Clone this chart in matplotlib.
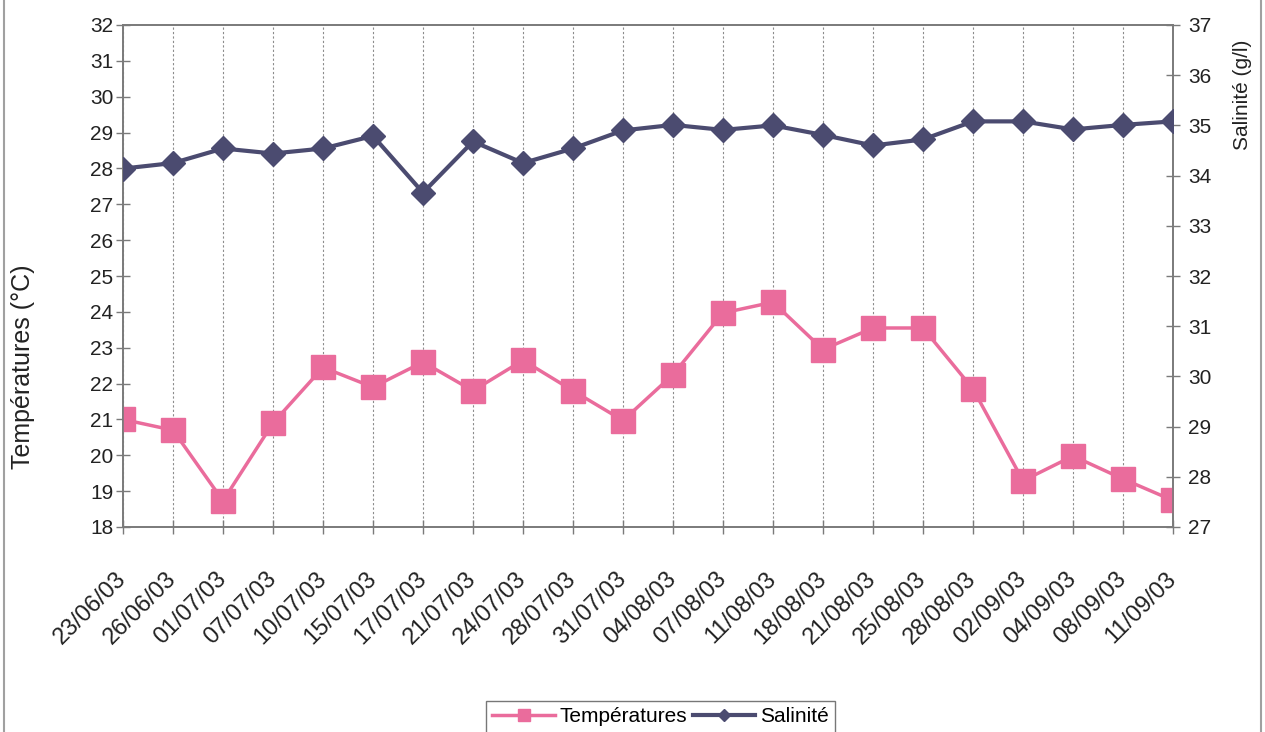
import numpy as np
import matplotlib
matplotlib.use('Agg')
import matplotlib.pyplot as plt
from matplotlib.patches import Rectangle

plt.rcParams['font.family'] = ['Liberation Sans', 'DejaVu Sans']

# data
dates = ['23/06/03', '26/06/03', '01/07/03', '07/07/03', '10/07/03', '15/07/03',
         '17/07/03', '21/07/03', '24/07/03', '28/07/03', '31/07/03', '04/08/03',
         '07/08/03', '11/08/03', '18/08/03', '21/08/03', '25/08/03', '28/08/03',
         '02/09/03', '04/09/03', '08/09/03', '11/09/03']

temperatures = [21.0, 20.7, 18.73, 20.9, 22.45, 21.9, 22.6, 21.8, 22.65, 21.8, 20.97,
                22.25, 23.97, 24.27, 22.95, 23.55, 23.55, 21.85, 19.29, 19.98,
                19.34, 18.74]

salinite = [34.14, 34.25, 34.54, 34.44, 34.54, 34.79, 33.66, 34.68, 34.25, 34.54, 34.9,
            35.01, 34.91, 35.0, 34.81, 34.6, 34.72, 35.08, 35.08, 34.92, 35.01, 35.08]

temp_ticks = np.arange(18, 33, 1)
sal_ticks = np.arange(27, 38, 1)

col_temp = '#EA6C9C'
col_sal = '#4B4B70'
col_axis = '#7A7A7A'
col_text = '#222222'

fig = plt.figure(figsize=(12.65, 7.32), dpi=100)
# grey frame round the whole chart
fig.patches.append(Rectangle((0.003, -0.01), 0.994, 1.02, transform=fig.transFigure,
                             fill=False, edgecolor='#A0A0A0', linewidth=1.5))

ax = fig.add_axes([123/1265, 1-527/732, 1050/1265, 502/732])
ax2 = ax.twinx()

x = np.arange(len(dates))

l1, = ax.plot(x, temperatures, color=col_temp, linewidth=2.5, marker='s',
              markersize=17, markeredgecolor=col_temp, label='Températures', zorder=3)
l2, = ax2.plot(x, salinite, color=col_sal, linewidth=3, marker='D',
               markersize=12, markeredgecolor=col_sal, label='Salinité', zorder=3)

ax.set_xlim(0, len(dates)-1)
ax.set_ylim(18, 32)
ax2.set_ylim(27, 37)
ax.set_yticks(temp_ticks)
ax2.set_yticks(sal_ticks)
ax.set_xticks(x)
ax.set_xticklabels(dates, rotation=45, ha='right', va='center', rotation_mode='anchor')

ax.grid(axis='x', linestyle=(0, (2, 2)), color='#8C8C8C', linewidth=0.8)
ax.set_axisbelow(True)

for a in (ax, ax2):
    for s in a.spines.values():
        s.set_color(col_axis)
        s.set_linewidth(1.2)

ax.tick_params(axis='y', direction='inout', length=10, width=1, colors=col_axis,
               labelcolor=col_text, labelsize=15, pad=2)
ax2.tick_params(axis='y', direction='inout', length=10, width=1, colors=col_axis,
                labelcolor=col_text, labelsize=15, pad=6)
ax.tick_params(axis='x', direction='inout', length=10, width=1, colors=col_axis,
               labelcolor=col_text, labelsize=17, pad=30)

ax.set_ylabel('Températures (°C)', fontsize=18, color=col_text)
ax.yaxis.set_label_coords(-0.084, 0.32)
ax2.set_ylabel('Salinité (g/l)', fontsize=15, color=col_text)
ax2.yaxis.set_label_coords(1.057, 0.86)

leg = fig.legend(handles=[l1, l2], loc='lower center', bbox_to_anchor=(0.522, -0.015),
                 ncol=2, fontsize=15, frameon=True, fancybox=False,
                 edgecolor='#555555', handlelength=3.0, columnspacing=0.3,
                 handletextpad=0.2, borderpad=0.3, markerscale=0.5)
leg.get_frame().set_linewidth(1)

fig.savefig('out.png', dpi=100)
